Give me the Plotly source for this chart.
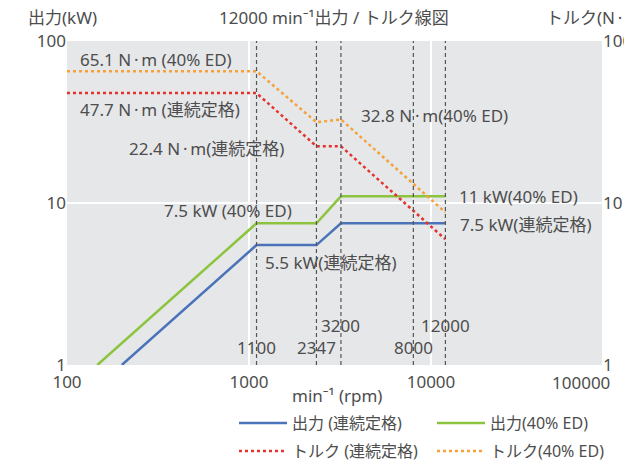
import math
import plotly.graph_objects as go

# ---- data ----
rpm_cont = [200, 1100, 2347, 3200, 12000]
kw_cont = [1.0, 5.5, 5.5, 7.5, 7.5]
rpm_ed = [146.7, 1100, 2347, 3200, 12000]
kw_ed = [1.0, 7.5, 7.5, 11, 11]
rpm_tq_cont = [100, 1100, 2347, 3200, 12000]
tq_cont = [47.7, 47.7, 22.4, 22.4, 5.97]
rpm_tq_ed = [100, 1100, 2347, 3200, 12000]
tq_ed = [65.1, 65.1, 31.5, 32.8, 8.75]
marker_rpm = [1100, 2347, 3200, 8000, 12000]
marker_lbl = ["1100", "2347", "3200", "8000", "12000"]
marker_row = [0, 0, 1, 0, 1]
x_ticks = [100, 1000, 10000]
y_ticks = [1, 10, 100]

W, H = 624, 461
L, R, T, B = 67, 22, 41, 96
PW, PH = W - L - R, H - T - B
XR = [2, 2 + PW / 182.0]
YR = [0, 2]

def px2paper_x(px):
    return (px - L) / PW

def px2paper_y(py):
    return (H - B - py) / PH

TXT = "#4d4d4d"
FONT = "Noto Sans, Noto Sans CJK JP, sans-serif"
BLUE = "#4a73b9"
GREEN = "#8cc43f"
RED = "#e5322d"
ORANGE = "#f7a13a"
NM = "N\u2009·\u2009m"

fig = go.Figure()
fig.add_trace(go.Scatter(x=rpm_cont, y=kw_cont, mode="lines", name="出力 (連続定格)",
                         line=dict(color=BLUE, width=2.5), legend="legend"))
fig.add_trace(go.Scatter(x=rpm_ed, y=kw_ed, mode="lines", name="出力(40% ED)",
                         line=dict(color=GREEN, width=2.5), legend="legend"))
fig.add_trace(go.Scatter(x=rpm_tq_cont, y=tq_cont, mode="lines", name="トルク (連続定格)",
                         line=dict(color=RED, width=2.5, dash="dot"), yaxis="y2", legend="legend2"))
fig.add_trace(go.Scatter(x=rpm_tq_ed, y=tq_ed, mode="lines", name="トルク(40% ED)",
                         line=dict(color=ORANGE, width=2.5, dash="dot"), yaxis="y2", legend="legend2"))

shapes = []
for r in marker_rpm:
    shapes.append(dict(type="line", xref="x", yref="paper", x0=r, x1=r, y0=0, y1=1,
                       line=dict(color="#555555", width=1.2, dash="4px,3px"), layer="above"))

ann = []
for r, lbl, row in zip(marker_rpm, marker_lbl, marker_row):
    ann.append(dict(x=math.log10(r), xref="x", y=px2paper_y(347 if row == 0 else 325), yref="paper",
                    text=lbl, showarrow=False, xanchor="center", yanchor="middle",
                    font=dict(size=17, color=TXT)))

labels = [
    ("65.1 " + NM + " (40% ED)", 78, 59),
    ("47.7 " + NM + " (連続定格)", 78, 110),
    ("22.4 " + NM + "(連続定格)", 127, 148),
    ("32.8 " + NM + "(40% ED)", 359, 115),
    ("7.5 kW (40% ED)", 162, 210),
    ("11 kW(40% ED)", 457, 196),
    ("7.5 kW(連続定格)", 458, 224),
    ("5.5 kW(連続定格)", 263, 262),
]
for t, x, y in labels:
    ann.append(dict(x=px2paper_x(x), xref="paper", y=px2paper_y(y), yref="paper", text=t,
                    showarrow=False, xanchor="left", yanchor="middle",
                    font=dict(size=17, color=TXT)))

# titles
ann.append(dict(x=px2paper_x(334), xref="paper", y=px2paper_y(18), yref="paper",
                text="12000 min⁻¹出力 / トルク線図", showarrow=False, xanchor="center",
                yanchor="middle", font=dict(size=17, color=TXT)))
ann.append(dict(x=px2paper_x(26), xref="paper", y=px2paper_y(18), yref="paper",
                text="出力(kW)", showarrow=False, xanchor="left",
                yanchor="middle", font=dict(size=17, color=TXT)))
ann.append(dict(x=px2paper_x(544), xref="paper", y=px2paper_y(18), yref="paper",
                text="トルク(" + NM + ")", showarrow=False, xanchor="left",
                yanchor="middle", font=dict(size=17, color=TXT)))
ann.append(dict(x=px2paper_x(337), xref="paper", y=px2paper_y(395), yref="paper",
                text="min⁻¹ (rpm)", showarrow=False, xanchor="center",
                yanchor="middle", font=dict(size=17, color=TXT)))
ann.append(dict(x=px2paper_x(581), xref="paper", y=px2paper_y(382), yref="paper",
                text="100000", showarrow=False, xanchor="center",
                yanchor="middle", font=dict(size=17, color=TXT)))

legend_common = dict(orientation="h", xanchor="left", yanchor="middle",
                     bgcolor="rgba(0,0,0,0)", entrywidth=135, entrywidthmode="pixels",
                     font=dict(size=16, color=TXT), itemwidth=48, borderwidth=0)

fig.update_layout(
    width=W, height=H,
    margin=dict(l=L, r=R, t=T, b=B, pad=0, autoexpand=False),
    paper_bgcolor="white", plot_bgcolor="#e6e7e9",
    font=dict(family=FONT, color=TXT, size=16),
    shapes=shapes, annotations=ann,
    xaxis=dict(type="log", range=XR, tickvals=x_ticks, ticktext=[str(v) for v in x_ticks],
               showgrid=True, gridcolor="white", gridwidth=1.5, zeroline=False,
               showline=False, ticks="", tickfont=dict(size=17, color=TXT), automargin=False,
               ticklabelstandoff=5),
    yaxis=dict(type="log", range=YR, tickvals=y_ticks, ticktext=[str(v) for v in y_ticks],
               showgrid=True, gridcolor="white", gridwidth=1.5, zeroline=False,
               showline=False, ticks="", tickfont=dict(size=17, color=TXT), automargin=False),
    yaxis2=dict(type="log", range=YR, tickvals=y_ticks, ticktext=[str(v) for v in y_ticks],
                overlaying="y", side="right", showgrid=False, zeroline=False,
                showline=False, ticks="", tickfont=dict(size=17, color=TXT), automargin=False),
    legend=dict(x=px2paper_x(234), y=px2paper_y(423), **legend_common),
    legend2=dict(x=px2paper_x(234), y=px2paper_y(451), **legend_common),
)

fig.write_html("out.html")
